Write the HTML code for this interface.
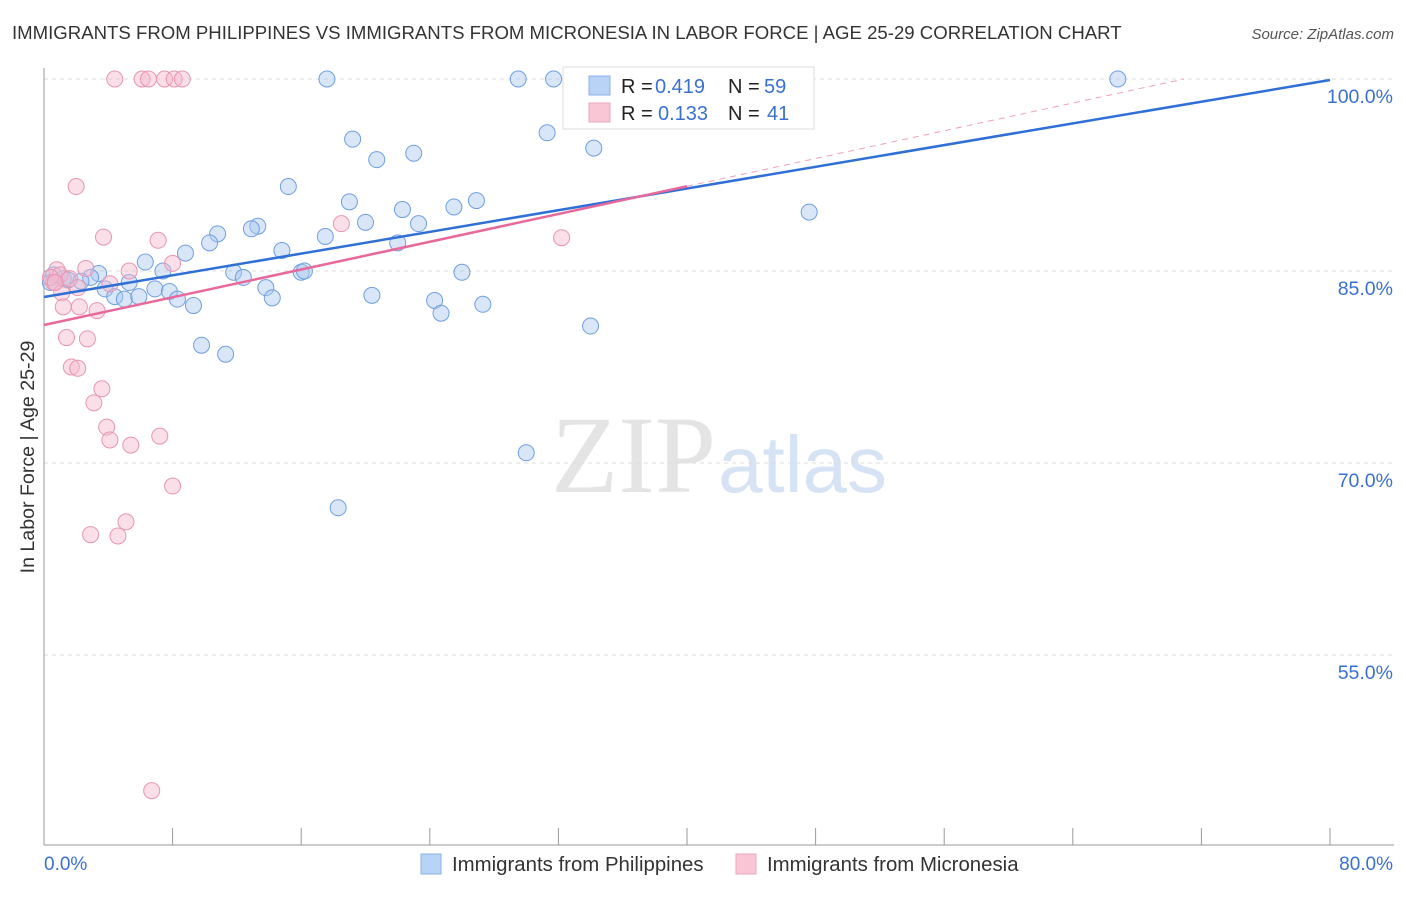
<!DOCTYPE html>
<html><head><meta charset="utf-8"><style>
body{margin:0;background:#fff;font-family:"Liberation Sans",sans-serif;}
</style></head><body>
<svg id="c" width="1406" height="892" xmlns="http://www.w3.org/2000/svg">
<text x="12" y="39" font-size="18.6" fill="#333">IMMIGRANTS FROM PHILIPPINES VS IMMIGRANTS FROM MICRONESIA IN LABOR FORCE | AGE 25-29 CORRELATION CHART</text>
<text x="1394" y="39" font-size="15" fill="#555" font-style="italic" text-anchor="end">Source: ZipAtlas.com</text>
<text x="716" y="492" font-size="110" font-family="Liberation Serif,serif" fill="#e4e4e4" text-anchor="end">ZIP</text>
<text x="718" y="492" font-size="80" fill="#d6e3f4">atlas</text>
<text transform="translate(34,457) rotate(-90)" font-size="19.6" fill="#333" text-anchor="middle">In Labor Force | Age 25-29</text>
<g id="grid"></g><g id="marks"></g>
<g>
<rect x="563" y="67" width="251" height="62" fill="#fff" stroke="#ddd"/>
<rect x="589" y="76" width="21" height="19" fill="#b8d3f5" stroke="#8ab2e8"/>
<rect x="589" y="103" width="21" height="19" fill="#f9c6d6" stroke="#eea5bd"/>
<text x="621" y="93" font-size="20" fill="#222">R =</text>
<text x="655" y="93" font-size="20" fill="#3a70d0">0.419</text>
<text x="728" y="93" font-size="20" fill="#222">N =</text>
<text x="764" y="93" font-size="20" fill="#3a70d0">59</text>
<text x="621" y="120" font-size="20" fill="#222">R =</text>
<text x="658" y="120" font-size="20" fill="#3a70d0">0.133</text>
<text x="728" y="120" font-size="20" fill="#222">N =</text>
<text x="767" y="120" font-size="20" fill="#3a70d0">41</text>
</g>
<g>
<rect x="421" y="854" width="20" height="20" fill="#b8d3f5" stroke="#8ab2e8"/>
<text x="452" y="871" font-size="20.4" fill="#333">Immigrants from Philippines</text>
<rect x="736" y="854" width="20" height="20" fill="#f9c6d6" stroke="#eea5bd"/>
<text x="767" y="871" font-size="20.4" fill="#333">Immigrants from Micronesia</text>
</g>
</svg>
<script>
const blueX=[17.6,29.5,31.7,66.8,31.3,19.2,20.7,34.2,23,15.2,19,26.9,25.5,22.3,20,23.3,13.3,12.9,10.8,10.3,17.5,22,14.8,8.8,6.3,47.6,7.4,11.8,12.4,16,16.2,26,3.4,2.9,1.2,0.6,1.5,0.4,2.3,5.3,3.8,6.9,7.8,13.8,4.4,5,5.9,8.3,9.3,14.2,20.4,24.3,27.3,24.7,34,9.8,11.3,30,18.3];
const blueY=[100,100,100,100,95.8,95.3,93.7,94.6,94.2,91.6,90.4,90.5,90,89.8,88.8,88.7,88.5,88.3,87.9,87.2,87.7,87.2,86.6,86.4,85.7,89.6,85,84.9,84.5,84.9,85,84.9,84.8,84.5,84.4,84.7,84.3,84.1,84.2,84.1,83.6,83.6,83.4,83.7,83,82.8,83,82.8,82.3,82.9,83.1,82.7,82.4,81.7,80.7,79.2,78.5,70.8,66.5];
const pinkX=[4.4,6.1,6.5,7.5,8.1,8.6,2,3.7,7.1,18.5,32.2,8,5.3,2.6,0.8,1,1.6,0.6,1.1,2.1,4.1,1.2,2.2,3.3,1.4,2.7,1.7,2.1,3.6,3.1,3.9,4.1,7.2,5.4,8,5.1,2.9,4.6,6.7,0.4,0.7];
const pinkY=[100,100,100,100,100,100,91.6,87.65,87.4,88.7,87.6,85.6,85,85.2,85.1,84.7,84.4,84.1,83.3,83.7,84,82.2,82.2,81.9,79.8,79.7,77.5,77.4,75.8,74.7,72.8,71.8,72.1,71.4,68.2,65.4,64.4,64.3,44.4,84.5,84.1];
const blueLine=[82.97,99.92];
const pinkLine=[80.78,102.46];
const yTicks=[100,85,70,55];
const X=v=>44+v*16.075, Y=v=>79+(100-v)*12.8;
const NS="http://www.w3.org/2000/svg";
const grid=document.getElementById('grid'),marks=document.getElementById('marks');
function el(t,a,p){const e=document.createElementNS(NS,t);for(const k in a)e.setAttribute(k,a[k]);p.appendChild(e);return e;}
for(const t of yTicks){
 const l=el('line',{x1:44,x2:1394,y1:Y(t),y2:Y(t),stroke:'#ddd','stroke-dasharray':'4,4'},grid);
 
 
 const tx=el('text',{x:1393,y:Y(t)+24,'font-size':19.5,fill:'#3a70d0','text-anchor':'end'},grid);tx.textContent=t.toFixed(1)+'%';
 
 
}
el('line',{x1:44,x2:44,y1:68,y2:845,stroke:'#999'},grid);
el('line',{x1:44,x2:1394,y1:845,y2:845,stroke:'#999'},grid);
for(let i=0;i<=10;i++){const px=44+i*128.6;el('line',{x1:px,x2:px,y1:828,y2:845,stroke:'#999'},grid);}
[['0.0%',44,'start'],['80.0%',1393,'end']].forEach(([s,x,a])=>{const t=el('text',{x:x,y:870,'font-size':19,fill:'#3a70d0','text-anchor':a},grid);t.textContent=s;
 
 });
for(let i=0;i<blueX.length;i++){const c=el('circle',{cx:X(blueX[i]),cy:Y(blueY[i]),r:8,fill:'rgba(168,200,240,0.45)',stroke:'#6f9fe0','stroke-width':1},marks);
 
 }
for(let i=0;i<pinkX.length;i++){const c=el('circle',{cx:X(pinkX[i]),cy:Y(pinkY[i]),r:8,fill:'rgba(245,185,205,0.45)',stroke:'#e895b2','stroke-width':1},marks);
 
 }
const bl=el('line',{x1:X(0),y1:Y(blueLine[0]),x2:X(80),y2:Y(blueLine[1]),stroke:'#2f6fd6','stroke-width':2.5},marks);


const ps=(pinkLine[1]-pinkLine[0])/80, xe=(100-pinkLine[0])/ps;
const pd=el('line',{x1:X(40),y1:Y(pinkLine[0]+40*ps),x2:X(xe),y2:Y(100),stroke:'#f0a0bc','stroke-width':1,'stroke-dasharray':'6,5'},marks);


const pl=el('line',{x1:X(0),y1:Y(pinkLine[0]),x2:X(40),y2:Y(pinkLine[0]+40*ps),stroke:'#e8689a','stroke-width':2.5},marks);


</script>
</body></html>
